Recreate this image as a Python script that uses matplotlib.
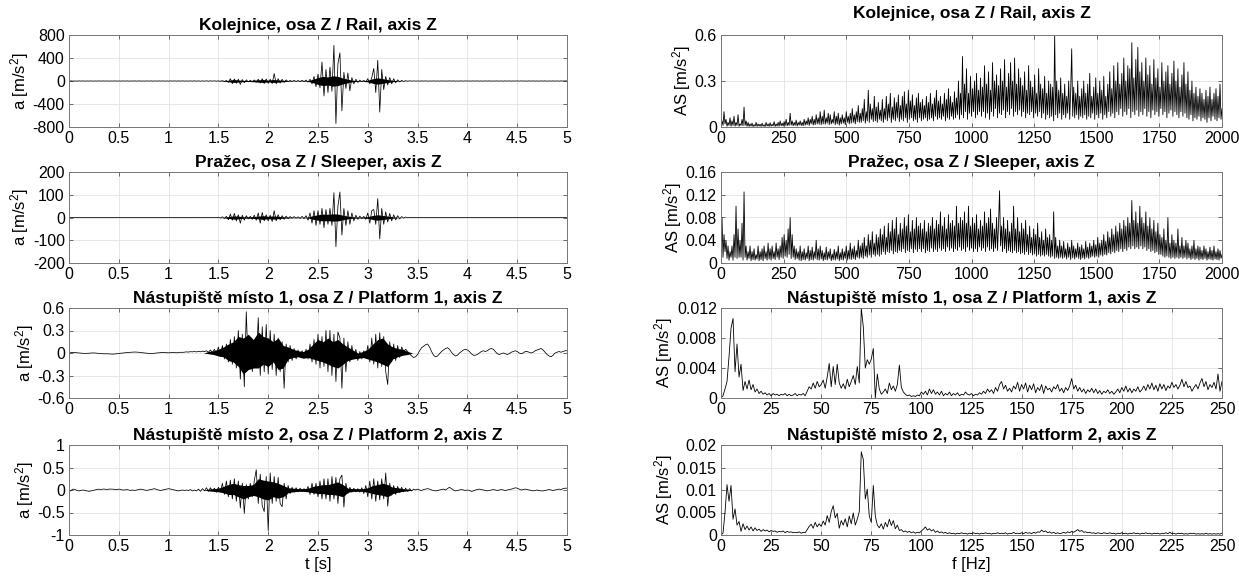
import numpy as np
import matplotlib
matplotlib.use('Agg')
import matplotlib.pyplot as plt
from matplotlib.ticker import FuncFormatter

plt.rcParams['font.family'] = ['Liberation Sans', 'DejaVu Sans']
plt.rcParams['mathtext.fontset'] = 'custom'
plt.rcParams['mathtext.rm'] = 'Liberation Sans'
plt.rcParams['mathtext.default'] = 'regular'
plt.rcParams['axes.unicode_minus'] = False

# ---------------- data ----------------
titles = ["Kolejnice, osa Z / Rail, axis Z",
          "Pražec, osa Z / Sleeper, axis Z",
          "Nástupiště místo 1, osa Z / Platform 1, axis Z",
          "Nástupiště místo 2, osa Z / Platform 2, axis Z"]

# time signals, sampled every 0.02 s from 0 to 5 s
rail_acc = [0, 2, -2, 1, -2, 2, -1, 2, -2, 1,
            -1, 2, -2, 1, -1, 2, -2, 2, -1, 1,
            -2, 1, -1, 2, -2, 1, -2, 2, -1, 2,
            -2, 1, -1, 2, -2, 2, -1, 1, -2, 2,
            -1, 2, -2, 1, -2, 2, -1, 2, -2, 1,
            -2, 2, -1, 2, -2, 2, -1, 2, -2, 1,
            -2, 2, -2, 3, -2, 2, -3, 2, -2, 3,
            -3, 3, -2, 3, -3,
            3, -4, 6, -8, 10,
            -25, 40, -45, 35, -40, 30, -60, 25, -30, 20,
            -15, 12, -15, 18, -20, 30, -35, 40, -45, 35,
            -40, 30, -45, 130, -50, 40, -35, 30, -25, 20,
            -12, 10, -8, 10, -8, 8, -10, 12, -10, 15, -20, 30,
            -50, 80, -100, 120, -120, 330, -260, 200, -200, 240,
            -180, 620, -740, 300, 490, -520, 150, -130, 140, -170,
            60, -50, 30, -25, 15, -12, 10, -15,
            40, -50, 60, 220, -200, 360, -540, 200, -150, 80,
            -70, 60, -50, 40, -30, 20, -15,
            10, -8, 6, -4,
            3, -2, 2, -2, 1, -2, 2, -1, 2, -2,
            1, -1, 2, -2, 1, -2, 2, -1, 1, -2,
            2, -1, 2, -2, 1, -1, 2, -2, 2, -1,
            1, -2, 2, -1, 2, -2, 1, -2, 2, -1,
            2, -2, 1, -1, 2, -2, 1, -2, 2, -1,
            2, -2, 1, -1, 2, -2, 2, -1, 1, -2,
            2, -1, 2, -2, 1, -2, 2, -1, 2, -2,
            1, -1, 2, -2, 1, -2, 2, -1, 2, 0]

sleeper_acc = [0, 0.5, -0.5, 0.3, -0.5, 0.5, -0.3, 0.5, -0.5, 0.3,
               -0.3, 0.5, -0.5, 0.3, -0.3, 0.5, -0.5, 0.5, -0.3, 0.3,
               -0.5, 0.3, -0.3, 0.5, -0.5, 0.3, -0.5, 0.5, -0.3, 0.5,
               -0.5, 0.3, -0.3, 0.5, -0.5, 0.5, -0.3, 0.3, -0.5, 0.5,
               -0.3, 0.5, -0.5, 0.3, -0.5, 0.5, -0.3, 0.5, -0.5, 0.3,
               -0.5, 0.5, -0.3, 0.5, -0.5, 0.5, -0.3, 0.5, -0.5, 0.3,
               -0.5, 0.5, -0.5, 0.8, -0.5, 0.5, -0.8, 0.5, -0.5, 0.8,
               -0.8, 0.8, -0.5, 0.8, -0.8,
               1, -2, 3, -4, 5,
               -10, 15, -12, 18, -15, 12, -25, 10, -12, 8,
               -6, 5, -8, 10, -12, 20, -25, 22, -15, 12,
               -15, 10, -18, 30, -15, 12, -10, 8, -8, 6,
               -5, 4, -3, 4, -3, 3, -4, 5, -5, 8, -12, 20,
               -25, 30, -35, 30, -30, 40, -45, 35, -30, 40,
               -35, 109, -128, 50, 112, -77, 40, -35, 30, -30,
               20, -15, 10, -8, 6, -5, 5, -8,
               20, -25, 30, 35, -30, 83, -94, 40, -30, 25,
               -20, 18, -15, 12, -10, 8, -6,
               4, -3, 2, -1,
               0.8, -0.5, 0.5, -0.5, 0.3, -0.5, 0.5, -0.3, 0.5, -0.5,
               0.3, -0.3, 0.5, -0.5, 0.3, -0.5, 0.5, -0.3, 0.3, -0.5,
               0.5, -0.3, 0.5, -0.5, 0.3, -0.3, 0.5, -0.5, 0.5, -0.3,
               0.3, -0.5, 0.5, -0.3, 0.5, -0.5, 0.3, -0.5, 0.5, -0.3,
               0.5, -0.5, 0.3, -0.3, 0.5, -0.5, 0.3, -0.5, 0.5, -0.3,
               0.5, -0.5, 0.3, -0.3, 0.5, -0.5, 0.5, -0.3, 0.3, -0.5,
               0.5, -0.3, 0.5, -0.5, 0.3, -0.5, 0.5, -0.3, 0.5, -0.5,
               0.3, -0.3, 0.5, -0.5, 0.3, -0.5, 0.5, -0.3, 0.5, 0]

platform1_acc = [0.0, 0.005, 0.008, 0.006, 0.003, 0.0, -0.002, -0.004, -0.006, -0.005,
                 -0.003, -0.001, 0.001, 0.0, -0.003, -0.006, -0.008, -0.01, -0.011, -0.01,
                 -0.012, -0.014, -0.015, -0.013, -0.01, -0.006, -0.003, 0.0, 0.003, 0.005,
                 0.008, 0.01, 0.012, 0.013, 0.012, 0.01, 0.006, 0.003, 0.0, -0.003,
                 -0.006, -0.008, -0.006, -0.003, 0.0, 0.004, 0.007, 0.008, 0.006, 0.004,
                 0.002, 0.005, 0.008, 0.006, 0.003, 0.006, 0.01, 0.008, 0.012, 0.015,
                 0.012, 0.018, 0.015, 0.02, 0.014, 0.022, 0.016, 0.025, 0.018, 0.03,
                 0.01, 0.04, 0.005, 0.05, -0.01,
                 0.08, -0.05, 0.1, -0.08, 0.12,
                 -0.12, 0.18, -0.15, 0.22, -0.2, 0.3, -0.35, 0.25, -0.45, 0.55,
                 -0.2, 0.2, -0.25, 0.15, -0.15, 0.47, -0.3, 0.35, -0.25, 0.38,
                 -0.28, 0.3, -0.22, 0.25, -0.3, 0.2, -0.25, 0.15, -0.47, 0.12,
                 -0.12, 0.1, -0.1, 0.06, -0.08, 0.04, -0.06, 0.03, -0.05, 0.05,
                 -0.08, 0.12, -0.12, 0.18, -0.15, 0.25, -0.2, 0.22, -0.18, 0.3,
                 -0.25, 0.3, -0.3, 0.25, -0.38, 0.28, 0.2, -0.47, 0.2, -0.25,
                 0.15, -0.12, 0.1, -0.08, 0.05, -0.1, 0.02, -0.08, 0.03, -0.06,
                 0.1, -0.12, 0.2, -0.15, 0.25, -0.2, 0.27, -0.18, 0.22, -0.25,
                 -0.42, 0.15, -0.12, 0.12, -0.1, 0.1, -0.06, 0.08, 0.02, 0.05,
                 0.02, -0.01, -0.04, -0.06, -0.05, -0.02, 0.03, 0.07, 0.09, 0.11,
                 0.12, 0.08, 0.02, -0.03, -0.05, -0.04, -0.01, 0.02, 0.04, 0.06,
                 0.07, 0.05, 0.01, -0.02, -0.04, -0.03, 0.0, 0.02, 0.04, 0.05,
                 0.04, 0.02, -0.01, -0.03, -0.03, -0.02, 0.0, 0.02, 0.03, 0.02,
                 0.03, 0.05, 0.06, 0.05, 0.02, -0.01, -0.02, -0.01, 0.0, -0.01,
                 -0.02, -0.01, 0.01, 0.02, 0.03, 0.02, 0.0, -0.01, 0.0, 0.02,
                 0.02, 0.01, 0.0, 0.01, 0.03, 0.04, 0.05, 0.06, 0.04, 0.01,
                 -0.02, -0.04, -0.05, -0.03, 0.0, 0.01, 0.02, 0.01, 0.02, 0.03, 0.03]

platform2_acc = [-0.04, -0.01, 0.02, 0.01, -0.01, -0.02, -0.01, 0.0, -0.01, -0.02,
                 -0.03, -0.02, -0.01, 0.0, 0.01, 0.02, 0.01, 0.02, 0.02, 0.01,
                 0.02, 0.02, 0.02, 0.01, 0.01, 0.02, 0.01, 0.0, 0.0, 0.01,
                 0.0, -0.01, 0.0, -0.01, 0.0, 0.01, 0.02, 0.01, 0.0, -0.01,
                 0.0, 0.01, 0.02, 0.03, 0.01, 0.0, -0.01, 0.0, 0.01, 0.02,
                 0.03, 0.02, 0.01, 0.0, -0.01, -0.02, -0.01, 0.0, -0.01, 0.0,
                 -0.01, 0.01, -0.02, 0.0, -0.02, 0.02, -0.03, 0.03, -0.02, 0.05,
                 -0.03, 0.05, -0.02, 0.04, -0.05, 0.06, -0.04, 0.15, -0.1, 0.2,
                 -0.15, 0.22, -0.2, 0.25, -0.25, 0.2, -0.4, 0.15, -0.52, 0.12,
                 -0.2, 0.15, -0.15, 0.2, 0.45, -0.3, 0.35, -0.35, -0.48, 0.3,
                 -0.9, 0.38, -0.3, 0.3, -0.25, 0.28, -0.3, -0.37, 0.15, -0.2,
                 0.1, -0.08, 0.06, -0.05, 0.05, -0.04, 0.04, -0.03, 0.03, -0.04,
                 0.08, -0.1, 0.15, -0.1, 0.15, -0.15, 0.2, -0.2, 0.25, -0.2,
                 0.25, -0.25, 0.3, -0.2, 0.28, -0.3, 0.25, 0.33, -0.38, 0.15,
                 -0.08, 0.06, -0.05, 0.04, -0.04, 0.03, -0.05, 0.05, -0.08, 0.1,
                 -0.15, 0.2, -0.2, 0.25, -0.25, 0.2, -0.22, 0.25, -0.2, 0.38,
                 -0.36, 0.15, -0.12, 0.1, -0.1, 0.08, -0.06, 0.06, -0.04, 0.04,
                 -0.03, 0.03, -0.02, 0.02, 0.0, 0.02, 0.0, -0.01, 0.01, 0.02,
                 0.03, 0.02, 0.0, -0.01, -0.02, -0.01, 0.0, 0.01, 0.02, 0.0,
                 0.03, 0.06, 0.03, 0.0, -0.02, -0.01, 0.0, 0.01, 0.0, -0.01,
                 0.0, -0.01, -0.03, -0.02, 0.0, 0.01, 0.02, 0.01, 0.0, -0.01,
                 -0.02, -0.01, 0.0, 0.01, 0.0, -0.01, 0.0, 0.01, 0.0, -0.01,
                 0.0, 0.01, 0.02, 0.03, 0.05, 0.04, 0.02, 0.0, 0.01, 0.02,
                 0.01, 0.0, -0.01, -0.02, -0.01, 0.0, -0.01, -0.02, -0.02, -0.01,
                 0.0, 0.01, 0.0, -0.01, 0.0, 0.01, 0.02, 0.01, 0.03, 0.04, 0.04]

# dense core (solid band) of the time signals, every 0.05 s from 0 to 5 s
rail_core = [0, 0, 0, 0, 0, 0, 0, 0, 0, 0, 0, 0, 0, 0, 0, 0, 0, 0, 0, 0,
             0, 0, 0, 0, 0, 0, 0, 0, 0, 0, 1,
             4, 12, 25, 18, 10, 8, 12, 20, 25, 15, 25, 20, 12, 6, 3, 3, 4, 6,
             30, 60, 80, 70, 90, 80, 50, 30, 12, 6, 5,
             15, 40, 55, 40, 25, 12, 5, 2,
             0, 0, 0, 0, 0, 0, 0, 0, 0, 0, 0, 0, 0, 0, 0, 0, 0, 0, 0, 0,
             0, 0, 0, 0, 0, 0, 0, 0, 0, 0, 0, 0, 0]
sleeper_core = [0, 0, 0, 0, 0, 0, 0, 0, 0, 0, 0, 0, 0, 0, 0, 0, 0, 0, 0, 0,
                0, 0, 0, 0, 0, 0, 0, 0, 0, 0, 0,
                1, 4, 7, 6, 3, 3, 4, 6, 8, 5, 7, 5, 3, 2, 1, 1, 1, 2,
                8, 12, 15, 14, 16, 15, 10, 6, 3, 2, 2,
                4, 9, 12, 9, 6, 3, 1,
                0, 0, 0, 0, 0, 0, 0, 0, 0, 0, 0, 0, 0, 0, 0, 0, 0, 0, 0, 0,
                0, 0, 0, 0, 0, 0, 0, 0, 0, 0, 0, 0, 0, 0]
platform1_core_hi = [0, 0, 0, 0, 0, 0, 0, 0, 0, 0, 0, 0, 0, 0, 0, 0, 0, 0, 0, 0,
                     0, 0, 0, 0, 0, 0, 0, 0,
                     0.02, 0.03, 0.05, 0.08, 0.12, 0.15, 0.22, 0.2, 0.25, 0.18,
                     0.28, 0.22, 0.2, 0.15, 0.2, 0.1, 0.08, 0.05, 0.03, 0.02,
                     0.05, 0.12, 0.18, 0.15, 0.2, 0.15, 0.18, 0.12, 0.08, 0.04,
                     0.0, 0.02, 0.05, 0.12, 0.18, 0.2, 0.12, 0.08, 0.06, 0.05, 0.02,
                     0, 0, 0, 0, 0, 0, 0, 0, 0, 0, 0, 0, 0, 0, 0, 0,
                     0, 0, 0, 0, 0, 0, 0, 0, 0, 0, 0, 0, 0, 0, 0, 0]
platform1_core_lo = [0, 0, 0, 0, 0, 0, 0, 0, 0, 0, 0, 0, 0, 0, 0, 0, 0, 0, 0, 0,
                     0, 0, 0, 0, 0, 0, 0, 0,
                     -0.01, -0.02, -0.04, -0.05, -0.1, -0.12, -0.18, -0.28, -0.22, -0.2,
                     -0.2, -0.15, -0.18, -0.12, -0.22, -0.2, -0.08, -0.06, -0.05, -0.07,
                     -0.06, -0.08, -0.1, -0.12, -0.15, -0.18, -0.2, -0.15, -0.1, -0.08,
                     -0.07, -0.06, -0.08, -0.1, -0.12, -0.15, -0.18, -0.08, -0.05, -0.03, -0.02,
                     0, 0, 0, 0, 0, 0, 0, 0, 0, 0, 0, 0, 0, 0, 0, 0,
                     0, 0, 0, 0, 0, 0, 0, 0, 0, 0, 0, 0, 0, 0, 0, 0]
platform2_core_hi = [0, 0, 0, 0, 0, 0, 0, 0, 0, 0, 0, 0, 0, 0, 0, 0, 0, 0, 0, 0,
                     0, 0, 0, 0, 0, 0, 0, 0,
                     0.02, 0.03, 0.04, 0.08, 0.12, 0.15, 0.12, 0.1, 0.1, 0.12,
                     0.25, 0.22, 0.2, 0.18, 0.15, 0.1, 0.05, 0.04, 0.03, 0.03,
                     0.04, 0.08, 0.1, 0.12, 0.12, 0.15, 0.18, 0.12, 0.04, 0.03,
                     0.03, 0.03, 0.05, 0.1, 0.12, 0.15, 0.12, 0.06, 0.05, 0.03, 0.02,
                     0, 0, 0, 0, 0, 0, 0, 0, 0, 0, 0, 0, 0, 0, 0, 0,
                     0, 0, 0, 0, 0, 0, 0, 0, 0, 0, 0, 0, 0, 0, 0, 0]
platform2_core_lo = [0, 0, 0, 0, 0, 0, 0, 0, 0, 0, 0, 0, 0, 0, 0, 0, 0, 0, 0, 0,
                     0, 0, 0, 0, 0, 0, 0, 0,
                     -0.02, -0.03, -0.04, -0.06, -0.1, -0.1, -0.15, -0.2, -0.15, -0.12,
                     -0.15, -0.2, -0.22, -0.15, -0.18, -0.15, -0.06, -0.04, -0.03, -0.03,
                     -0.04, -0.06, -0.08, -0.08, -0.1, -0.1, -0.12, -0.15, -0.05, -0.03,
                     -0.03, -0.03, -0.05, -0.08, -0.1, -0.12, -0.15, -0.08, -0.05, -0.03, -0.02,
                     0, 0, 0, 0, 0, 0, 0, 0, 0, 0, 0, 0, 0, 0, 0, 0,
                     0, 0, 0, 0, 0, 0, 0, 0, 0, 0, 0, 0, 0, 0, 0, 0]

# amplitude spectra of rail & sleeper, every 4 Hz from 0 to 2000 Hz
rail_as = [0.0, 0.04, 0.01, 0.1, 0.02, 0.05, 0.005, 0.03, 0.01, 0.06, 0.005, 0.04, 0.01, 0.07, 0.005, 0.03, 0.01, 0.08, 0.005, 0.02,
           0.01, 0.05, 0.008, 0.13, 0.01, 0.04, 0.005, 0.03, 0.004, 0.02, 0.006, 0.025, 0.003, 0.015, 0.005, 0.03, 0.004, 0.02, 0.006, 0.018,
           0.004, 0.025, 0.005, 0.015, 0.003, 0.03, 0.006, 0.02, 0.004, 0.028, 0.005, 0.018, 0.007, 0.035, 0.004, 0.02, 0.006, 0.03, 0.005, 0.04,
           0.008, 0.025, 0.006, 0.035, 0.01, 0.05, 0.008, 0.03, 0.01, 0.09, 0.012, 0.04, 0.008, 0.03, 0.01, 0.045, 0.006, 0.03, 0.012, 0.04,
           0.01, 0.03, 0.008, 0.05, 0.012, 0.04, 0.015, 0.06, 0.01, 0.05, 0.02, 0.07, 0.012, 0.05, 0.015, 0.08, 0.02, 0.06, 0.018, 0.1,
           0.015, 0.07, 0.02, 0.11, 0.018, 0.06, 0.025, 0.09, 0.015, 0.08, 0.02, 0.05, 0.025, 0.1, 0.015, 0.07, 0.02, 0.09, 0.012, 0.06,
           0.02, 0.08, 0.025, 0.06, 0.015, 0.1, 0.03, 0.07, 0.02, 0.09, 0.025, 0.12, 0.03, 0.08, 0.02, 0.1, 0.035, 0.14, 0.03, 0.09,
           0.03, 0.12, 0.04, 0.18, 0.025, 0.1, 0.04, 0.24, 0.03, 0.15, 0.05, 0.12, 0.035, 0.2, 0.04, 0.13, 0.03, 0.16, 0.05, 0.11,
           0.04, 0.18, 0.03, 0.12, 0.05, 0.2, 0.04, 0.15, 0.06, 0.22, 0.03, 0.13, 0.05, 0.19, 0.04, 0.16, 0.06, 0.21, 0.035, 0.14,
           0.05, 0.2, 0.04, 0.23, 0.06, 0.15, 0.03, 0.24, 0.05, 0.17, 0.06, 0.21, 0.04, 0.14, 0.05, 0.19, 0.03, 0.22, 0.06, 0.16,
           0.04, 0.18, 0.05, 0.14, 0.06, 0.2, 0.04, 0.16, 0.05, 0.22, 0.06, 0.15, 0.04, 0.19, 0.07, 0.24, 0.05, 0.17, 0.06, 0.2,
           0.05, 0.15, 0.07, 0.22, 0.04, 0.18, 0.06, 0.25, 0.05, 0.2, 0.07, 0.16, 0.05, 0.23, 0.06, 0.19, 0.08, 0.3, 0.05, 0.22,
           0.08, 0.46, 0.06, 0.28, 0.1, 0.38, 0.05, 0.22, 0.09, 0.33, 0.07, 0.25, 0.1, 0.3, 0.06, 0.35, 0.08, 0.24, 0.1, 0.32,
           0.07, 0.26, 0.1, 0.4, 0.06, 0.28, 0.09, 0.36, 0.05, 0.24, 0.1, 0.42, 0.07, 0.3, 0.12, 0.34, 0.06, 0.27, 0.09, 0.38,
           0.08, 0.3, 0.11, 0.44, 0.06, 0.26, 0.1, 0.35, 0.08, 0.42, 0.12, 0.3, 0.07, 0.45, 0.1, 0.28, 0.08, 0.38, 0.11, 0.32,
           0.07, 0.27, 0.1, 0.36, 0.06, 0.24, 0.09, 0.4, 0.08, 0.3, 0.1, 0.26, 0.06, 0.34, 0.09, 0.22, 0.07, 0.38, 0.1, 0.28,
           0.06, 0.25, 0.09, 0.33, 0.05, 0.22, 0.08, 0.3, 0.06, 0.28, 0.07, 0.26, 0.04, 0.6, 0.08, 0.3, 0.06, 0.24, 0.09, 0.32,
           0.05, 0.22, 0.08, 0.28, 0.06, 0.2, 0.09, 0.3, 0.05, 0.24, 0.51, 0.07, 0.26, 0.06, 0.22, 0.08, 0.3, 0.05, 0.2, 0.07,
           0.25, 0.06, 0.3, 0.08, 0.22, 0.05, 0.28, 0.07, 0.35, 0.06, 0.2, 0.09, 0.26, 0.05, 0.32, 0.08, 0.22, 0.06, 0.3, 0.09,
           0.24, 0.05, 0.33, 0.08, 0.2, 0.06, 0.28, 0.1, 0.36, 0.07, 0.25, 0.09, 0.4, 0.06, 0.3, 0.1, 0.42, 0.08, 0.28, 0.12,
           0.35, 0.07, 0.45, 0.1, 0.3, 0.08, 0.4, 0.12, 0.38, 0.06, 0.55, 0.1, 0.32, 0.08, 0.44, 0.11, 0.52, 0.07, 0.36, 0.1,
           0.42, 0.08, 0.3, 0.12, 0.45, 0.07, 0.34, 0.1, 0.4, 0.06, 0.28, 0.11, 0.44, 0.08, 0.32, 0.1, 0.38, 0.07, 0.26, 0.12,
           0.42, 0.08, 0.3, 0.1, 0.36, 0.06, 0.4, 0.09, 0.28, 0.11, 0.35, 0.07, 0.43, 0.1, 0.3, 0.08, 0.38, 0.06, 0.26, 0.1,
           0.34, 0.07, 0.42, 0.09, 0.28, 0.06, 0.36, 0.05, 0.24, 0.08, 0.3, 0.04, 0.22, 0.06, 0.26, 0.05, 0.2, 0.07, 0.25, 0.04,
           0.22, 0.06, 0.18, 0.05, 0.24, 0.03, 0.2, 0.06, 0.26, 0.04, 0.18, 0.07, 0.22, 0.05, 0.25, 0.04, 0.2, 0.06, 0.28, 0.05,
           0.12]

sleeper_as = [0.005, 0.08, 0.01, 0.05, 0.02, 0.04, 0.008, 0.03, 0.005, 0.02, 0.01, 0.03, 0.005, 0.05, 0.01, 0.1, 0.008, 0.06, 0.01, 0.04,
              0.01, 0.07, 0.005, 0.125, 0.01, 0.03, 0.005, 0.02, 0.008, 0.03, 0.004, 0.02, 0.006, 0.025, 0.005, 0.015, 0.007, 0.03, 0.004, 0.02,
              0.006, 0.025, 0.004, 0.03, 0.008, 0.02, 0.005, 0.035, 0.007, 0.025, 0.005, 0.03, 0.008, 0.02, 0.006, 0.035, 0.01, 0.025, 0.006, 0.03,
              0.01, 0.045, 0.008, 0.05, 0.012, 0.04, 0.01, 0.06, 0.015, 0.08, 0.008, 0.05, 0.01, 0.03, 0.006, 0.025, 0.008, 0.02, 0.005, 0.03,
              0.004, 0.02, 0.006, 0.025, 0.005, 0.018, 0.008, 0.03, 0.004, 0.022, 0.006, 0.028, 0.005, 0.02, 0.008, 0.04, 0.006, 0.025, 0.005, 0.03,
              0.007, 0.022, 0.004, 0.018, 0.006, 0.028, 0.005, 0.02, 0.008, 0.025, 0.004, 0.016, 0.006, 0.024, 0.005, 0.02, 0.007, 0.03, 0.004, 0.018,
              0.006, 0.025, 0.005, 0.02, 0.008, 0.03, 0.005, 0.022, 0.007, 0.035, 0.006, 0.025, 0.008, 0.03, 0.006, 0.022, 0.01, 0.04, 0.008, 0.03,
              0.01, 0.035, 0.008, 0.045, 0.012, 0.03, 0.01, 0.05, 0.014, 0.04, 0.01, 0.055, 0.015, 0.035, 0.012, 0.05, 0.015, 0.045, 0.012, 0.06,
              0.015, 0.05, 0.02, 0.065, 0.015, 0.045, 0.02, 0.07, 0.018, 0.055, 0.022, 0.075, 0.016, 0.06, 0.02, 0.08, 0.018, 0.05, 0.022, 0.07,
              0.02, 0.06, 0.025, 0.08, 0.018, 0.065, 0.022, 0.085, 0.02, 0.055, 0.025, 0.075, 0.018, 0.06, 0.024, 0.08, 0.02, 0.065, 0.025, 0.07,
              0.02, 0.06, 0.025, 0.075, 0.018, 0.055, 0.022, 0.07, 0.02, 0.065, 0.026, 0.08, 0.02, 0.06, 0.024, 0.075, 0.02, 0.068, 0.026, 0.09,
              0.022, 0.065, 0.025, 0.08, 0.02, 0.06, 0.028, 0.085, 0.022, 0.07, 0.026, 0.075, 0.02, 0.065, 0.025, 0.1, 0.022, 0.07, 0.028, 0.08,
              0.022, 0.075, 0.025, 0.09, 0.02, 0.07, 0.028, 0.1, 0.022, 0.065, 0.026, 0.08, 0.02, 0.07, 0.025, 0.085, 0.02, 0.06, 0.028, 0.075,
              0.022, 0.065, 0.026, 0.09, 0.02, 0.07, 0.028, 0.08, 0.022, 0.095, 0.025, 0.07, 0.02, 0.06, 0.026, 0.08, 0.022, 0.07, 0.127, 0.03,
              0.065, 0.02, 0.08, 0.025, 0.06, 0.018, 0.075, 0.022, 0.055, 0.02, 0.07, 0.018, 0.1, 0.022, 0.06, 0.018, 0.08, 0.02, 0.055, 0.016,
              0.07, 0.018, 0.06, 0.015, 0.075, 0.02, 0.05, 0.015, 0.065, 0.018, 0.045, 0.014, 0.06, 0.016, 0.05, 0.012, 0.07, 0.015, 0.045, 0.012,
              0.055, 0.014, 0.04, 0.012, 0.06, 0.015, 0.045, 0.012, 0.05, 0.01, 0.04, 0.012, 0.09, 0.008, 0.045, 0.01, 0.03, 0.008, 0.04, 0.01,
              0.03, 0.008, 0.038, 0.01, 0.025, 0.007, 0.035, 0.01, 0.028, 0.006, 0.04, 0.009, 0.03, 0.007, 0.025, 0.01, 0.035, 0.008, 0.028, 0.006,
              0.032, 0.009, 0.025, 0.007, 0.038, 0.01, 0.028, 0.008, 0.035, 0.01, 0.03, 0.012, 0.04, 0.01, 0.032, 0.012, 0.045, 0.01, 0.035, 0.014,
              0.04, 0.012, 0.05, 0.015, 0.038, 0.014, 0.055, 0.018, 0.045, 0.016, 0.06, 0.02, 0.05, 0.018, 0.065, 0.022, 0.055, 0.02, 0.07, 0.025,
              0.06, 0.02, 0.075, 0.025, 0.065, 0.022, 0.08, 0.028, 0.07, 0.025, 0.11, 0.03, 0.075, 0.025, 0.09, 0.028, 0.07, 0.025, 0.1, 0.03,
              0.08, 0.025, 0.07, 0.028, 0.09, 0.022, 0.065, 0.025, 0.08, 0.02, 0.06, 0.022, 0.075, 0.018, 0.055, 0.02, 0.07, 0.015, 0.05, 0.015,
              0.045, 0.012, 0.06, 0.01, 0.04, 0.012, 0.08, 0.01, 0.035, 0.008, 0.05, 0.01, 0.04, 0.008, 0.035, 0.01, 0.06, 0.008, 0.03, 0.01,
              0.045, 0.008, 0.03, 0.01, 0.04, 0.007, 0.035, 0.009, 0.025, 0.006, 0.03, 0.008, 0.04, 0.006, 0.025, 0.008, 0.03, 0.005, 0.028, 0.007,
              0.022, 0.006, 0.03, 0.008, 0.025, 0.005, 0.02, 0.007, 0.028, 0.006, 0.022, 0.005, 0.03, 0.007, 0.02, 0.006, 0.025, 0.005, 0.022, 0.008,
              0.015]

# platform spectra every 1 Hz from 0 to 250 Hz
platform1_as = [0.0, 0.0003, 0.0012, 0.0022, 0.0055, 0.0093, 0.0106, 0.0035, 0.0072, 0.0028,
                0.0045, 0.001, 0.0022, 0.0012, 0.0024,
                0.0011, 0.0018, 0.0008, 0.0012, 0.0006, 0.0009, 0.0005, 0.0007, 0.0004, 0.0006,
                0.0003, 0.0006, 0.0004, 0.0005, 0.0003, 0.0005, 0.0004, 0.0006, 0.0003, 0.0005,
                0.0003, 0.0004, 0.0006, 0.0003, 0.0005, 0.0004, 0.0006, 0.0003, 0.0009, 0.0015,
                0.0012, 0.002, 0.0013, 0.0022, 0.0015, 0.0018, 0.0024, 0.0013, 0.0028, 0.0046,
                0.0015, 0.0042, 0.0018, 0.0045, 0.002, 0.0013, 0.0019, 0.0012, 0.0025, 0.0015,
                0.0022, 0.003, 0.0018, 0.0042, 0.002, 0.012, 0.0095, 0.004, 0.0051, 0.0045,
                0.0052, 0.0066, 0.0, 0.0032, 0.0012, 0.0005, 0.0008, 0.0012, 0.0006, 0.002,
                0.0011, 0.0016, 0.0009, 0.0018, 0.0044, 0.0014, 0.0008, 0.0005, 0.0003, 0.0004,
                0.0002, 0.0003, 0.0002, 0.0004, 0.0003, 0.0008, 0.0005, 0.0009, 0.0004, 0.0012,
                0.0006, 0.0011, 0.0005, 0.0008, 0.0004, 0.0009, 0.0003, 0.0006, 0.0004, 0.0008,
                0.0003, 0.0006, 0.0004, 0.0007, 0.0003, 0.0005, 0.0004, 0.0008, 0.0005, 0.0004,
                0.0006, 0.0003, 0.0005, 0.0004, 0.0007, 0.0005, 0.0009, 0.0006, 0.0012, 0.0008,
                0.0011, 0.0006, 0.0014, 0.0009, 0.0018, 0.0022, 0.0012, 0.0017, 0.0009, 0.0013,
                0.0008, 0.0016, 0.0012, 0.0021, 0.0009, 0.0018, 0.0012, 0.002, 0.0008, 0.0017,
                0.0011, 0.0019, 0.0007, 0.0014, 0.001, 0.0018, 0.0006, 0.0016, 0.0011, 0.0013,
                0.0008, 0.0015, 0.0012, 0.0018, 0.0009, 0.0013, 0.0007, 0.0014, 0.001, 0.0016,
                0.0026, 0.0012, 0.0017, 0.0009, 0.0014, 0.0008, 0.0012, 0.0006, 0.0011, 0.0008,
                0.0013, 0.0007, 0.0012, 0.0006, 0.001, 0.0005, 0.0009, 0.0007, 0.0011, 0.0006,
                0.0009, 0.0005, 0.0008, 0.0012, 0.0007, 0.0014, 0.0009, 0.0016, 0.0008, 0.0013,
                0.0007, 0.0012, 0.0009, 0.0015, 0.0008, 0.0011, 0.0016, 0.001, 0.0018, 0.0012,
                0.002, 0.0011, 0.0017, 0.0009, 0.0019, 0.0012, 0.0018, 0.001, 0.0016, 0.0013,
                0.0021, 0.0014, 0.0018, 0.0012, 0.0017, 0.0025, 0.0015, 0.0022, 0.0014, 0.0016,
                0.0009, 0.0014, 0.0018, 0.0012, 0.002, 0.0026, 0.0015, 0.0022, 0.0011, 0.0018,
                0.0014, 0.0021, 0.0012, 0.0032, 0.0009, 0.0022]

platform2_as = [0.0, 0.0004, 0.005, 0.0112, 0.0075, 0.011, 0.0035, 0.0058, 0.0022, 0.003,
                0.0008, 0.0025, 0.0012, 0.002, 0.0011, 0.0018, 0.0009, 0.0016, 0.001, 0.0013,
                0.0008, 0.0012, 0.0009, 0.0011, 0.0007, 0.001, 0.0008, 0.0009, 0.0006, 0.0008,
                0.0007, 0.0009, 0.0005, 0.0008, 0.0006, 0.0007, 0.0005, 0.0006, 0.0005, 0.0007,
                0.0004, 0.0006, 0.0005, 0.0012, 0.0019, 0.0024, 0.0015, 0.0028, 0.0018, 0.0025,
                0.0019, 0.0031, 0.0022, 0.0043, 0.0028, 0.0052, 0.0065, 0.0038, 0.0048, 0.0015,
                0.0032, 0.0022, 0.0036, 0.0018, 0.0042, 0.0025, 0.0049, 0.0022, 0.0035, 0.0052,
                0.0185, 0.0168, 0.008, 0.0102, 0.0042, 0.0028, 0.011, 0.0042, 0.0022, 0.0016,
                0.0025, 0.0013, 0.0028, 0.0018, 0.0035, 0.0021, 0.0032, 0.0014, 0.0022, 0.001,
                0.0012, 0.0007, 0.0009, 0.0006, 0.0008, 0.0005, 0.0007, 0.0004, 0.0006, 0.0005,
                0.0009, 0.0013, 0.0018, 0.0011, 0.0014, 0.0009, 0.0012, 0.0006, 0.0009, 0.0005,
                0.0007, 0.0004, 0.0006, 0.0003, 0.0005, 0.0003, 0.0004, 0.0002, 0.0004, 0.0003,
                0.0005, 0.0003, 0.0004, 0.0002, 0.0004, 0.0003, 0.0005, 0.0003, 0.0004, 0.0002,
                0.0004, 0.0003, 0.0005, 0.0003, 0.0004, 0.0002, 0.0004, 0.0003, 0.0005, 0.0003,
                0.0004, 0.0003, 0.0005, 0.0002, 0.0004, 0.0003, 0.0006, 0.0003, 0.0004, 0.0003,
                0.0005, 0.0003, 0.0006, 0.0004, 0.0005, 0.0003, 0.0006, 0.0004, 0.0007, 0.0006,
                0.0011, 0.0007, 0.0009, 0.0005, 0.0007, 0.0004, 0.0006, 0.0003, 0.0005, 0.0003,
                0.0004, 0.0006, 0.0004, 0.0007, 0.0005, 0.0008, 0.0006, 0.0009, 0.0012, 0.0008,
                0.001, 0.0006, 0.0007, 0.0005, 0.0006, 0.0004, 0.0005, 0.0003, 0.0005, 0.0004,
                0.0003, 0.0005, 0.0004, 0.0003, 0.0005, 0.0003, 0.0004, 0.0002, 0.0004, 0.0003,
                0.0005, 0.0003, 0.0004, 0.0002, 0.0004, 0.0003, 0.0005, 0.0003, 0.0004, 0.0002,
                0.0004, 0.0003, 0.0005, 0.0003, 0.0004, 0.0002, 0.0004, 0.0003, 0.0004, 0.0002,
                0.0004, 0.0003, 0.0005, 0.0003, 0.0006, 0.0003, 0.0004, 0.0002, 0.0004, 0.0003,
                0.0004, 0.0002, 0.0003, 0.0002, 0.0004, 0.0003, 0.0004, 0.0002, 0.0003, 0.0002,
                0.0003, 0.0002, 0.0004, 0.0002, 0.0003, 0.0002, 0.0003, 0.0002, 0.0003, 0.0002, 0.0004]

t_ticks = [0, 0.5, 1, 1.5, 2, 2.5, 3, 3.5, 4, 4.5, 5]
f_rail_ticks = [0, 250, 500, 750, 1000, 1250, 1500, 1750, 2000]
f_plat_ticks = [0, 25, 50, 75, 100, 125, 150, 175, 200, 225, 250]
y_ticks_time = [[-800, -400, 0, 400, 800], [-200, -100, 0, 100, 200],
                [-0.6, -0.3, 0, 0.3, 0.6], [-1, -0.5, 0, 0.5, 1]]
y_ticks_spec = [[0, 0.3, 0.6], [0, 0.04, 0.08, 0.12, 0.16],
                [0, 0.004, 0.008, 0.012], [0, 0.005, 0.01, 0.015, 0.02]]

# ---------------- figure ----------------
W, H = 1239, 581
fig = plt.figure(figsize=(W / 100, H / 100), dpi=100)
rows = [(35, 127), (172, 263), (308, 398), (445, 535)]
left_x = (69, 567)
right_x = (721, 1222)

fmt = FuncFormatter(lambda v, p: f'{v:g}')
TICK_FS = 11.5
LAB_FS = 12
TITLE_FS = 12.5


def make_ax(xr, yr):
    return fig.add_axes([xr[0] / W, 1 - yr[1] / H, (xr[1] - xr[0]) / W, (yr[1] - yr[0]) / H])


def style(ax, xticks, yticks):
    ax.set_xlim(xticks[0], xticks[-1])
    ax.set_ylim(yticks[0], yticks[-1])
    ax.set_xticks(xticks)
    ax.set_yticks(yticks)
    ax.xaxis.set_major_formatter(fmt)
    ax.yaxis.set_major_formatter(fmt)
    ax.grid(True, color='#e3e3e3', lw=0.6)
    ax.set_axisbelow(True)
    ax.tick_params(direction='in', top=True, right=True, length=3, width=0.6,
                   labelsize=TICK_FS, color='#555', pad=3)
    for s in ax.spines.values():
        s.set_color('#777')
        s.set_linewidth(0.7)


time_series = [rail_acc, sleeper_acc, platform1_acc, platform2_acc]
time_core = [(np.negative(rail_core), rail_core),
             (np.negative(sleeper_core), sleeper_core),
             (platform1_core_lo, platform1_core_hi),
             (platform2_core_lo, platform2_core_hi)]
spec_series = [rail_as, sleeper_as, platform1_as, platform2_as]

for k in range(4):
    ax = make_ax(left_x, rows[k])
    y = np.array(time_series[k], dtype=float)
    t = np.linspace(0, 5, len(y))
    lo, hi = time_core[k]
    tc = np.linspace(0, 5, len(hi))
    ax.fill_between(tc, lo, hi, color='black', lw=0)
    ax.plot(t, y, color='black', lw=0.55)
    style(ax, t_ticks, y_ticks_time[k])
    ax.set_title(titles[k], fontsize=TITLE_FS, fontweight='bold', pad=3.5)
    ax.set_ylabel('a [m/s$^{2}$]', fontsize=LAB_FS, labelpad=1)
    if k == 3:
        ax.set_xlabel('t [s]', fontsize=LAB_FS, labelpad=2)

for k in range(4):
    ax = make_ax(right_x, rows[k])
    y = np.array(spec_series[k], dtype=float)
    fmax = 2000 if k < 2 else 250
    f = np.linspace(0, fmax, len(y))
    ax.plot(f, y, color='black', lw=0.6)
    style(ax, f_rail_ticks if k < 2 else f_plat_ticks, y_ticks_spec[k])
    ax.set_title(titles[k], fontsize=TITLE_FS, fontweight='bold', pad=12 if k == 0 else 3.5)
    ax.set_ylabel('AS [m/s$^{2}$]', fontsize=LAB_FS, labelpad=1)
    if k == 3:
        ax.set_xlabel('f [Hz]', fontsize=LAB_FS, labelpad=2)

fig.savefig('out.png', dpi=100)
